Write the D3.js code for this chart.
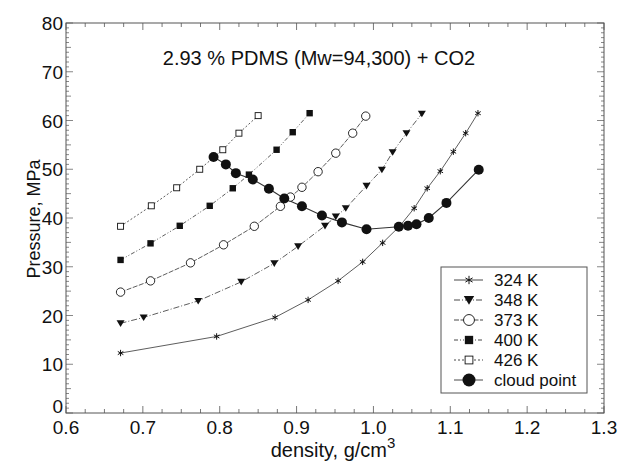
<!DOCTYPE html>
<html>
<head>
<meta charset="utf-8">
<script src="https://cdn.jsdelivr.net/npm/d3@7"></script>
<style>
  body { margin: 0; background: #fff; }
  text { font-family: "Liberation Sans", Arial, sans-serif; fill: #111; }
</style>
</head>
<body>
<div id="chart"></div>
<script>
// data: density (g/cm3) and pressure (MPa)
const dens324 = [0.671, 0.796, 0.872, 0.915, 0.954, 0.986, 1.012, 1.034, 1.053, 1.070, 1.087, 1.104, 1.120, 1.136];
const p324 = [12.3, 15.7, 19.6, 23.2, 27.1, 31.0, 34.9, 38.3, 42.0, 46.1, 49.6, 53.6, 57.4, 61.5];

const dens348 = [0.671, 0.701, 0.772, 0.828, 0.871, 0.902, 0.937, 0.951, 0.964, 0.991, 1.011, 1.025, 1.043, 1.063];
const p348 = [18.4, 19.6, 23.0, 26.9, 30.7, 34.2, 38.4, 40.3, 42.0, 46.6, 49.9, 53.5, 57.4, 61.4];

const dens373 = [0.671, 0.710, 0.762, 0.805, 0.845, 0.879, 0.892, 0.907, 0.928, 0.951, 0.973, 0.990];
const p373 = [24.8, 27.1, 30.8, 34.5, 38.3, 42.4, 44.3, 46.3, 49.5, 53.3, 57.4, 60.9];

const dens400 = [0.671, 0.710, 0.748, 0.787, 0.817, 0.838, 0.874, 0.895, 0.917];
const p400 = [31.4, 34.8, 38.4, 42.5, 46.1, 48.9, 54.0, 57.6, 61.5];

const dens426 = [0.671, 0.711, 0.744, 0.774, 0.804, 0.825, 0.850];
const p426 = [38.3, 42.5, 46.2, 50.0, 54.0, 57.4, 61.0];

const densCloud = [0.792, 0.808, 0.821, 0.843, 0.864, 0.884, 0.907, 0.933, 0.959, 0.991, 1.033, 1.045, 1.056, 1.072, 1.095, 1.137];
const pCloud = [52.5, 51.0, 49.2, 47.9, 46.0, 44.0, 42.4, 40.5, 39.1, 37.7, 38.2, 38.4, 38.7, 40.0, 43.1, 49.9];

const seriesNames = ['324 K', '348 K', '373 K', '400 K', '426 K', 'cloud point'];
const xTicks = [0.6, 0.7, 0.8, 0.9, 1.0, 1.1, 1.2, 1.3];
const yTicks = [0, 10, 20, 30, 40, 50, 60, 70, 80];

const width = 619, height = 467;
const margin = { top: 23, right: 15, bottom: 54, left: 66 };

const svg = d3.select('#chart').append('svg')
  .attr('width', width)
  .attr('height', height);

const x = d3.scaleLinear().domain([0.6, 1.3]).range([margin.left, width - margin.right]);
const y = d3.scaleLinear().domain([0, 80]).range([height - margin.bottom, margin.top]);

const frame = '#555';

// ticks on all four sides, pointing inward
const g = svg.append('g');
const xMinor = d3.range(0, 29).map((i) => 0.6 + i * 0.025);
const yMinor = d3.range(0, 81);
xMinor.forEach((v, i) => {
  const len = i % 4 === 0 ? 7 : 4;
  g.append('line').attr('x1', x(v)).attr('x2', x(v))
    .attr('y1', y(0)).attr('y2', y(0) - len).attr('stroke', frame).attr('stroke-width', 0.8);
  g.append('line').attr('x1', x(v)).attr('x2', x(v))
    .attr('y1', y(80)).attr('y2', y(80) + len).attr('stroke', frame).attr('stroke-width', 0.8);
});
yMinor.forEach((v) => {
  const len = v % 10 === 0 ? 7 : (v % 5 === 0 ? 5 : 3);
  g.append('line').attr('x1', x(0.6)).attr('x2', x(0.6) + len)
    .attr('y1', y(v)).attr('y2', y(v)).attr('stroke', frame).attr('stroke-width', 0.7);
  g.append('line').attr('x1', x(1.3)).attr('x2', x(1.3) - len)
    .attr('y1', y(v)).attr('y2', y(v)).attr('stroke', frame).attr('stroke-width', 0.7);
});

svg.append('rect')
  .attr('x', x(0.6)).attr('y', y(80))
  .attr('width', x(1.3) - x(0.6)).attr('height', y(0) - y(80))
  .attr('fill', 'none').attr('stroke', frame).attr('stroke-width', 1);

// tick labels
svg.append('g').selectAll('text').data(xTicks).enter().append('text')
  .attr('x', (d) => x(d)).attr('y', y(0) + 21)
  .attr('text-anchor', 'middle').style('font-size', '19px')
  .text((d) => d.toFixed(1));
svg.append('g').selectAll('text').data(yTicks).enter().append('text')
  .attr('x', x(0.6) - 3).attr('y', (d) => y(d) + (d === 0 ? 0 : 7))
  .attr('text-anchor', 'end').style('font-size', '19px')
  .text((d) => d);

// axis titles
const xt = svg.append('text').attr('x', 333).attr('y', 457)
  .attr('text-anchor', 'middle').style('font-size', '20px');
xt.append('tspan').text('density, g/cm');
xt.append('tspan').attr('dy', -9).style('font-size', '15px').text('3');

svg.append('text')
  .attr('transform', 'translate(40,219) rotate(-90)')
  .attr('text-anchor', 'middle').style('font-size', '18px')
  .text('Pressure, MPa');

svg.append('text').attr('x', 319).attr('y', 65)
  .attr('text-anchor', 'middle').style('font-size', '20px')
  .text('2.93 % PDMS (Mw=94,300) + CO2');

// markers
const ink = '#111';
function drawMarker(sel, kind, s) {
  if (kind === 'asterisk') {
    const r = 3.2 * s;
    const a = r * 0.866;
    sel.append('path')
      .attr('d', `M0,${-r}L0,${r}M${-a},${-r / 2}L${a},${r / 2}M${-a},${r / 2}L${a},${-r / 2}`)
      .attr('stroke', ink).attr('stroke-width', 1).attr('fill', 'none');
  } else if (kind === 'triangle') {
    const r = 4 * s;
    sel.append('path').attr('d', `M${-r},${-r * 0.75}L${r},${-r * 0.75}L0,${r * 0.9}Z`)
      .attr('fill', ink);
  } else if (kind === 'circle') {
    sel.append('circle').attr('r', 4.2 * s).attr('fill', '#fff')
      .attr('stroke', ink).attr('stroke-width', 0.9);
  } else if (kind === 'square') {
    const r = 3.2 * s;
    sel.append('rect').attr('x', -r).attr('y', -r).attr('width', 2 * r).attr('height', 2 * r)
      .attr('fill', ink);
  } else if (kind === 'osquare') {
    const r = 3 * s;
    sel.append('rect').attr('x', -r).attr('y', -r).attr('width', 2 * r).attr('height', 2 * r)
      .attr('fill', '#fff').attr('stroke', ink).attr('stroke-width', 0.9);
  } else {
    sel.append('circle').attr('r', 5 * s).attr('fill', ink);
  }
}

const series = [
  { name: seriesNames[0], xs: dens324, ys: p324, kind: 'asterisk', dash: null },
  { name: seriesNames[1], xs: dens348, ys: p348, kind: 'triangle', dash: '6,2,1,2' },
  { name: seriesNames[2], xs: dens373, ys: p373, kind: 'circle', dash: '5,1.5' },
  { name: seriesNames[3], xs: dens400, ys: p400, kind: 'square', dash: '4,2,1,2,1,2' },
  { name: seriesNames[4], xs: dens426, ys: p426, kind: 'osquare', dash: '2,2' },
  { name: seriesNames[5], xs: densCloud, ys: pCloud, kind: 'dot', dash: null },
];

const line = d3.line().x((d) => x(d[0])).y((d) => y(d[1]));

series.forEach((s) => {
  const pts = s.xs.map((v, i) => [v, s.ys[i]]);
  svg.append('path')
    .attr('d', line(pts))
    .attr('fill', 'none')
    .attr('stroke', '#333')
    .attr('stroke-width', s.kind === 'dot' ? 1.1 : 0.8)
    .attr('stroke-dasharray', s.dash);
});

series.forEach((s) => {
  const pts = s.xs.map((v, i) => [v, s.ys[i]]);
  svg.append('g').selectAll('g').data(pts).enter().append('g')
    .attr('transform', (d) => `translate(${x(d[0])},${y(d[1])})`)
    .each(function () { drawMarker(d3.select(this), s.kind, 1); });
});

// legend
const leg = svg.append('g');
leg.append('rect').attr('x', 441).attr('y', 267).attr('width', 146).attr('height', 126)
  .attr('fill', '#fff').attr('stroke', frame).attr('stroke-width', 1);
series.forEach((s, i) => {
  const cy = 280 + i * 20;
  leg.append('line').attr('x1', 454).attr('x2', 483).attr('y1', cy).attr('y2', cy)
    .attr('stroke', '#333').attr('stroke-width', 0.9).attr('stroke-dasharray', s.dash);
  const m = leg.append('g').attr('transform', `translate(469,${cy})`);
  drawMarker(m, s.kind, 1.3);
  leg.append('text').attr('x', 494).attr('y', cy + 6).style('font-size', '17px').text(s.name);
});
</script>
</body>
</html>
